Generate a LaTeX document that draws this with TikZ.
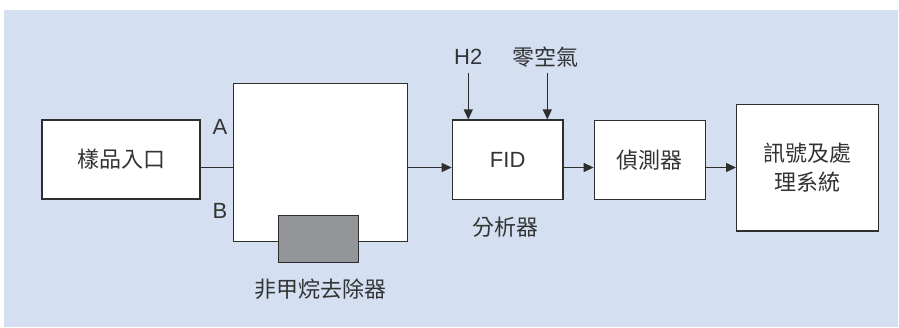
\documentclass[tikz,border=0pt]{standalone}
\usepackage{fontspec}
\setmainfont{Liberation Sans}
\newfontfamily\cjk{Noto Sans CJK TC}
\usetikzlibrary{arrows.meta,calc}
\definecolor{bgblue}{HTML}{D4E0F1}
\definecolor{linegray}{HTML}{2E2E2E}
\definecolor{txtgray}{HTML}{333333}
\definecolor{boxgray}{HTML}{939598}
\tikzset{
  blk/.style={draw=linegray, line width=1.3pt, fill=white, inner sep=0pt, text=txtgray},
  lbl/.style={inner sep=0pt, text=txtgray},
  conn/.style={draw=linegray, line width=1.3pt},
  arr/.style={conn, -{Triangle[length=10pt,width=9pt]}},
}
\begin{document}
\begin{tikzpicture}[x=1pt,y=-1pt,font=\fontsize{22}{29}\selectfont]
\useasboundingbox (0,0) rectangle (899,327);
\fill[bgblue] (4,10) rectangle (898,327);
% blocks
\node[blk, minimum width=158pt, minimum height=79pt] (sample) at (121,159.5) {\cjk 樣品入口};
\node[blk, minimum width=174pt, minimum height=158.4pt] (big) at (320.3,162.5) {};
\node[draw=linegray, line width=1.1pt, fill=boxgray, inner sep=0pt, minimum width=79.6pt, minimum height=47.3pt] (nmhc) at (318.5,238.7) {};
\node[blk, minimum width=110.7pt, minimum height=79.3pt] (fid) at (507.7,159.7) {FID};
\node[blk, minimum width=111pt, minimum height=78.6pt] (det) at (649.8,160) {\cjk 偵測器};
\node[blk, minimum width=142pt, minimum height=126.7pt, align=center] (sys) at (807.7,167.7) {\cjk 訊號及處\\[-0.5pt]\cjk 理系統};
% labels
\node[lbl] (la) at (220,126.5) {A};
\node[lbl] (lb) at (220,210.5) {B};
\node[lbl] (lnm) at (320,289) {\cjk 非甲烷去除器};
\node[lbl] (lan) at (505,226.7) {\cjk 分析器};
\node[lbl] (h2) at (468.3,56.7) {H2};
\node[lbl] (air) at (545,56.7) {\cjk 零空氣};
% connectors
\coordinate (lvl) at (0,167.5);
\draw[conn] (sample.east |- lvl) -- (big.west |- lvl);
\draw[arr] (big.east |- lvl) -- (fid.west |- lvl);
\draw[arr] (fid.east |- lvl) -- (det.west |- lvl);
\draw[arr] (det.east |- lvl) -- (sys.west |- lvl);
\coordinate (h2top) at (468.3,72.5);
\coordinate (airtop) at (547.3,72.5);
\draw[arr] (h2top) -- (h2top |- fid.north);
\draw[arr] (airtop) -- (airtop |- fid.north);
\end{tikzpicture}
\end{document}
